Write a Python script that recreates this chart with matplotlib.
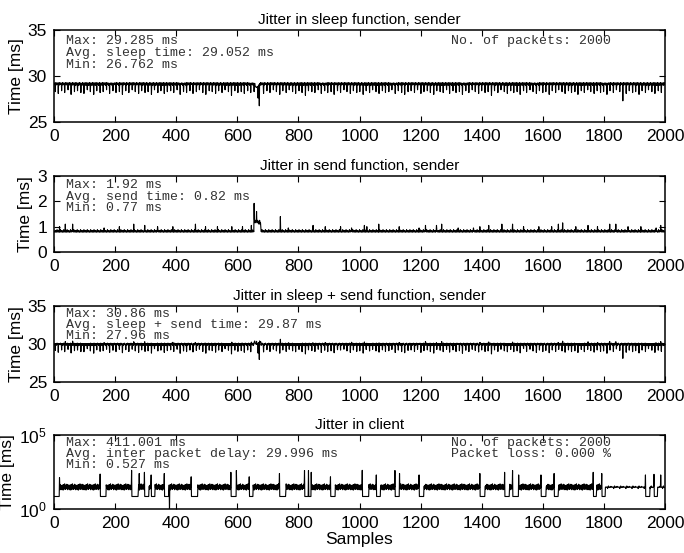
import numpy as np
import matplotlib
matplotlib.use("Agg")
import matplotlib.pyplot as plt
from matplotlib import font_manager

# ---------------- data ----------------
N_SAMPLES = 2000
x_ticks = [0, 200, 400, 600, 800, 1000, 1200, 1400, 1600, 1800, 2000]

# --- sleep function (ms) ---
sleep_fine_ms = [29.25, 29.10, 29.20, 28.98, 29.22, 29.15, 29.28, 29.02, 29.20, 29.12, 29.24]
sleep_dip_at = [4, 14, 25, 35, 46, 56, 67, 77, 88, 98, 109, 119, 130, 140, 151, 161, 172, 182, 193, 203,
                214, 224, 235, 245, 256, 266, 277, 287, 298, 308, 319, 329, 340, 350, 361, 371, 382, 392, 403, 413,
                424, 434, 445, 455, 466, 476, 487, 497, 508, 518, 529, 539, 550, 560, 571, 581, 592, 602, 613, 623,
                634, 644, 655, 686, 697, 707, 718, 728, 739, 749, 760, 770, 781, 791, 802, 812, 823, 833, 844,
                854, 865, 875, 886, 896, 907, 917, 928, 938, 949, 959, 970, 980, 991, 1001, 1012, 1022, 1033, 1043, 1054,
                1064, 1075, 1085, 1096, 1106, 1117, 1127, 1138, 1148, 1159, 1169, 1180, 1190, 1201, 1211, 1222, 1232, 1243, 1253, 1264,
                1274, 1285, 1295, 1306, 1316, 1327, 1337, 1348, 1358, 1369, 1379, 1390, 1400, 1411, 1421, 1432, 1442, 1453, 1463, 1474,
                1484, 1495, 1505, 1516, 1526, 1537, 1547, 1558, 1568, 1579, 1589, 1600, 1610, 1621, 1631, 1642, 1652, 1663, 1673, 1684,
                1694, 1705, 1715, 1726, 1736, 1747, 1757, 1768, 1778, 1789, 1799, 1810, 1820, 1831, 1841, 1852, 1873, 1883, 1894,
                1904, 1915, 1925, 1936, 1946, 1957, 1967, 1978, 1988]
sleep_dip_ms = [28.3, 28.1, 28.4, 28.2, 28.5, 28.0, 28.3, 28.4, 28.2, 28.1, 28.5, 28.3, 28.0, 28.4, 28.2, 28.3, 28.5, 28.1, 28.4, 28.2,
                28.3, 28.0, 28.4, 28.2, 28.5, 28.3, 28.1, 28.4, 28.2, 28.3, 28.0, 28.5, 28.2, 28.4, 28.1, 28.3, 28.4, 28.2, 28.5, 28.0,
                28.3, 28.2, 28.4, 28.1, 28.3, 28.5, 28.2, 28.0, 28.4, 28.3, 28.1, 28.4, 28.2, 28.5, 28.3, 27.9, 28.4, 28.2, 28.3, 28.1,
                28.4, 28.2, 28.3, 28.1, 28.4, 28.2, 28.5, 28.3, 28.0, 28.4, 28.2, 28.5, 28.3, 28.1, 28.4, 28.2, 27.9, 28.4, 28.3,
                28.2, 28.5, 28.1, 28.4, 28.2, 28.3, 28.0, 28.4, 28.2, 28.5, 28.3, 28.1, 28.4, 28.2, 28.3, 28.0, 28.4, 28.2, 28.5, 28.3,
                28.1, 28.4, 28.2, 28.3, 28.5, 28.1, 28.4, 28.2, 28.0, 28.3, 28.4, 28.2, 28.5, 28.1, 28.3, 28.4, 28.2, 28.0, 28.4, 28.3,
                28.2, 28.5, 28.1, 28.4, 28.2, 28.3, 28.0, 28.4, 28.2, 28.5, 28.3, 28.1, 28.4, 28.2, 28.3, 27.9, 28.4, 28.2, 28.5, 28.3,
                28.1, 28.4, 28.2, 28.3, 28.0, 28.4, 28.2, 28.5, 28.3, 28.1, 28.4, 28.2, 28.3, 28.0, 28.4, 28.2, 28.5, 28.3, 28.1, 28.4,
                28.2, 28.3, 28.0, 28.4, 28.2, 28.5, 28.3, 28.1, 28.4, 28.2, 28.3, 28.0, 28.4, 28.2, 28.5, 28.3, 28.1, 28.4, 28.2,
                28.3, 28.0, 28.4, 28.2, 28.5, 28.3, 28.1, 28.4, 28.2]
sleep_sag_from = 658
sleep_sag_ms = [29.0, 28.9, 28.85, 28.8, 28.75, 28.75, 28.8, 28.8, 28.85, 28.85, 28.9, 28.95, 29.0, 29.05, 29.1, 29.15]
sleep_deep_at = [668, 672, 1862]
sleep_deep_ms = [27.6, 26.762, 27.3]

# --- send function (ms) ---
send_fine_ms = [0.80, 0.82, 0.79, 0.81, 0.85, 0.80, 0.78, 0.81, 0.83, 0.79, 0.88]
send_spike_at = [18, 37, 61, 164, 214, 261, 297, 339, 389, 463, 496, 535, 582, 617, 646, 741, 767, 848, 888, 938,
                 974, 1016, 1024, 1063, 1130, 1195, 1216, 1252, 1269, 1323, 1373, 1394, 1423, 1466, 1501, 1537, 1587,
                 1629, 1651, 1665, 1708, 1748, 1779, 1819, 1839, 1879, 1921, 1971, 1986]
send_spike_ms = [1.00, 1.10, 1.10, 0.95, 1.00, 1.10, 1.05, 1.00, 1.00, 1.10, 1.00, 1.00, 1.00, 1.00, 1.05, 1.40, 0.95, 1.05, 1.00, 1.00,
                 0.95, 1.05, 1.00, 1.10, 1.00, 0.95, 1.05, 1.05, 1.10, 0.95, 0.95, 1.00, 1.05, 1.10, 1.10, 1.00, 1.00,
                 1.00, 1.10, 1.15, 1.00, 1.05, 1.00, 1.10, 1.10, 1.00, 1.00, 0.95, 1.05]
send_burst_from = 655
send_burst_ms = [1.92, 1.30, 1.20, 1.15, 1.20, 1.25, 1.20, 1.20, 1.60, 1.20, 1.15, 1.20, 1.25, 1.20, 1.15, 1.20,
                 1.10, 1.20, 1.25, 1.20, 1.10, 1.15, 1.00]

# --- client inter packet delay (ms) ---
client_fine_ms = [30, 20, 42, 25, 38, 19, 45, 27, 33, 22, 50, 28, 36, 21, 40, 30, 24, 47, 26, 35, 20, 43, 29, 37, 23]
client_quiet_ms = [30, 30, 31, 30, 29, 30, 30, 24, 30, 30, 36, 30, 30, 30, 28, 30, 30, 30, 34, 30]
client_quiet_from = 1805
client_gap_ms = 7
client_dip_start = [0, 152, 255, 297, 319, 362, 450, 580, 640, 739, 821, 834, 906, 1010, 1056, 1117, 1196,
                    1395, 1476, 1502, 1595, 1638, 1766, 1794, 1937, 1965]
client_dip_end = [17, 170, 275, 310, 330, 375, 470, 596, 651, 758, 832, 841, 920, 1030, 1068, 1130, 1210,
                  1410, 1490, 1520, 1610, 1650, 1775, 1804, 1950, 1975]
client_spike_at = [18, 151, 254, 279, 296, 318, 361, 449, 579, 597, 639, 738, 820, 833, 842, 905, 1009, 1055,
                   1116, 1131, 1195, 1394, 1475, 1501, 1521, 1594, 1637, 1765, 1793, 1936, 1964, 1986]
client_spike_ms = [130, 230, 410, 250, 300, 200, 250, 150, 300, 400, 150, 250, 400, 400, 300, 150, 411.001, 200,
                   400, 250, 200, 250, 300, 400, 200, 200, 250, 300, 250, 200, 220, 200]
client_low_at = [378]
client_low_ms = [0.527]

# ---------------- build series ----------------
n = np.arange(N_SAMPLES)
sleep = np.resize(np.array(sleep_fine_ms), N_SAMPLES).astype(float)
for i, v in zip(sleep_dip_at, sleep_dip_ms):
    sleep[i] = v
sleep[sleep_sag_from:sleep_sag_from + len(sleep_sag_ms)] = sleep_sag_ms
for i, v in zip(sleep_deep_at, sleep_deep_ms):
    sleep[i] = v

send = np.resize(np.array(send_fine_ms), N_SAMPLES).astype(float)
for i, v in zip(send_spike_at, send_spike_ms):
    send[i] = v
send[send_burst_from:send_burst_from + len(send_burst_ms)] = send_burst_ms

total = sleep + send

client = np.resize(np.array(client_fine_ms, dtype=float), N_SAMPLES)
client[client_quiet_from:] = np.resize(np.array(client_quiet_ms, dtype=float), N_SAMPLES - client_quiet_from)
for a, b in zip(client_dip_start, client_dip_end):
    client[a:b + 1] = client_gap_ms
for i, v in zip(client_spike_at, client_spike_ms):
    client[i] = v
for i, v in zip(client_low_at, client_low_ms):
    client[i] = v

# ---------------- figure ----------------
W, H = 684, 553
fig = plt.figure(figsize=(W / 100, H / 100), dpi=100)
installed = {f.name for f in font_manager.fontManager.ttflist}
SANS = "Liberation Sans"
if "Liberation Sans Narrow" in installed:
    TITLE_FONT, TITLE_SIZE = "Liberation Sans Narrow", 13.5
else:
    TITLE_FONT, TITLE_SIZE = "Liberation Sans", 11
MONO = "Liberation Mono"
TXT_COLOR = "#333333"

def make_ax(top, bottom):
    left, right = 54, 665
    return fig.add_axes([left / W, 1 - bottom / H, (right - left) / W, (bottom - top) / H])

def style(ax, title):
    ax.set_xlim(0, 2000)
    ax.set_xticks(x_ticks)
    ax.tick_params(direction="in", top=True, right=True, length=4, width=0.8,
                   labelsize=12.5, pad=5)
    for lab in ax.get_xticklabels() + ax.get_yticklabels():
        lab.set_family(SANS)
    for s in ax.spines.values():
        s.set_linewidth(1.1)
    ax.set_title(title, fontsize=TITLE_SIZE, family=TITLE_FONT, pad=4)
    ax.set_ylabel("Time [ms]", fontsize=12.5, family=SANS, labelpad=3)

def notes(ax, lines, ys, x=0.019):
    for t, y in zip(lines, ys):
        ax.text(x, y, t, transform=ax.transAxes, family=MONO, fontsize=9.5,
                color=TXT_COLOR, va="center", ha="left")

ax1 = make_ax(30, 122)
ax1.plot(n, sleep, color="black", lw=0.8)
ax1.set_ylim(25, 35)
ax1.set_yticks([25, 30, 35])
style(ax1, "Jitter in sleep function, sender")
notes(ax1, ["Max: 29.285 ms", "Avg. sleep time: 29.052 ms", "Min: 26.762 ms"], [0.88, 0.75, 0.62])
notes(ax1, ["No. of packets: 2000"], [0.88], x=0.65)

ax2 = make_ax(176, 252)
ax2.plot(n, send, color="black", lw=0.8)
ax2.set_ylim(0, 3)
ax2.set_yticks([0, 1, 2, 3])
style(ax2, "Jitter in send function, sender")
notes(ax2, ["Max: 1.92 ms", "Avg. send time: 0.82 ms", "Min: 0.77 ms"], [0.88, 0.73, 0.58])

ax3 = make_ax(306, 382)
ax3.plot(n, total, color="black", lw=0.8)
ax3.set_ylim(25, 35)
ax3.set_yticks([25, 30, 35])
style(ax3, "Jitter in sleep + send function, sender")
notes(ax3, ["Max: 30.86 ms", "Avg. sleep + send time: 29.87 ms", "Min: 27.96 ms"], [0.89, 0.75, 0.61])

ax4 = make_ax(435, 509)
ax4.plot(n, client, color="black", lw=0.8)
ax4.set_yscale("log")
ax4.set_ylim(1, 1e5)
ax4.set_yticks([1, 1e5])
ax4.minorticks_off()
style(ax4, "Jitter in client")
ax4.set_xlabel("Samples", fontsize=12.5, family=SANS, labelpad=1)
notes(ax4, ["Max: 411.001 ms", "Avg. inter packet delay: 29.996 ms", "Min: 0.527 ms"], [0.89, 0.74, 0.59])
notes(ax4, ["No. of packets: 2000", "Packet loss: 0.000 %"], [0.89, 0.74], x=0.65)

fig.savefig("out.png", dpi=100)
